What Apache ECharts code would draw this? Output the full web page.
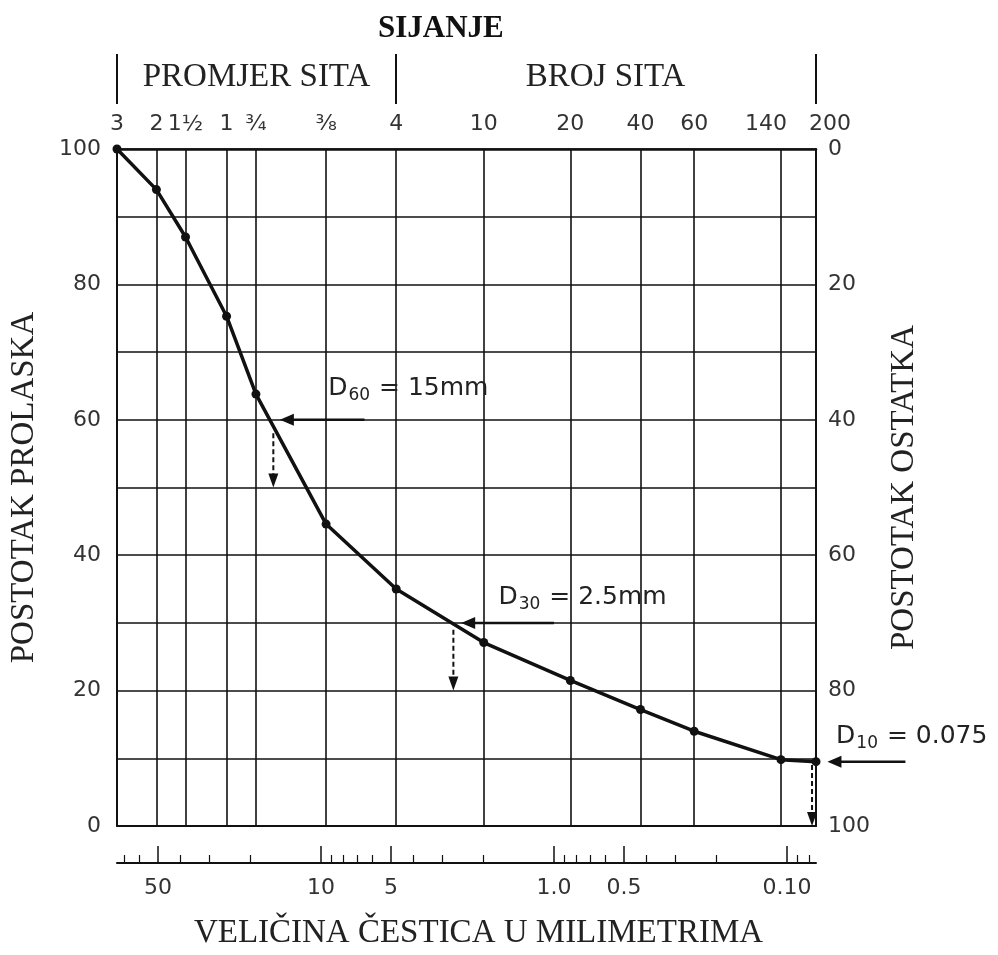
<!DOCTYPE html>
<html>
<head>
<meta charset="utf-8">
<title>Granulometrijska krivulja</title>
<script src="https://cdn.jsdelivr.net/npm/echarts@6.0.0/dist/echarts.min.js"></script>
<style>
  html, body { margin: 0; padding: 0; background: #fff; }
  #chart { width: 998px; height: 955px; }
</style>
</head>
<body>
<div id="chart"></div>
<script>
// krivulja prolaska - vrijednosti ocitane sa slike
const sizesMm = [75, 50.8, 38.1, 25.4, 19.0, 9.5, 4.75, 2.0, 0.85, 0.425, 0.25, 0.106, 0.075];
const passing = [100, 94, 87, 75.3, 63.8, 44.6, 35, 27.1, 21.5, 17.2, 14, 9.8, 9.5];

// gornja skala - sita
const sieveSizes = [75, 50.8, 38.1, 25.4, 19.0, 9.5, 4.75, 2.0, 0.85, 0.425, 0.25, 0.106, 0.075];
const sieveLabels = ['3', '2', '1½', '1', '¾', '⅜', '4', '10', '20', '40', '60', '140', '200'];
const groupEdges = [75, 4.75, 0.075];
const groupCenters = [18.9, 0.6];
const groupNames = ['PROMJER SITA', 'BROJ SITA'];

// donja skala u milimetrima
const mmMajor = [50, 10, 5, 1, 0.5, 0.1];
const mmMajorLabels = ['50', '10', '5', '1.0', '0.5', '0.10'];
const mmMinor = [70, 60, 40, 30, 20, 9, 8, 7, 6, 4, 3, 2, 0.9, 0.8, 0.7, 0.6, 0.4, 0.3, 0.2, 0.09, 0.08];

const percentTicks = [0, 20, 40, 60, 80, 100];

// oznake D60, D30, D10
const dSub = ['60', '30', '10'];
const dText = [' = 15mm', ' = 2.5mm', ' = 0.075'];
const dLevel = [60, 30, 9.5];
const arrowTail = [6.5, 1.0, 0.031];
const arrowTip = [15, 2.5, 0.067];
const dropAt = [16, 2.7, 0.078];
const dropFrom = [58, 29, 9];
const dropTo = [50, 20, 0];
const labelAt = [[9.3, 64.6], [1.73, 33.7], [0.0615, 13.2]];

const serif = 'Liberation Serif';
const sans = 'DejaVu Sans';
const ink = '#111';

// zadnje dvije oznake sita su na slici razmaknute od linije
const sieveNudge = { '140': 'l', '200': 'r' };

function pickIndex(values, v) {
    // log os vraca vrijednosti s malom greskom, trazimo najblizu
    let best = 0;
    values.forEach((s, i) => {
        if (Math.abs(Math.log(s / v)) < Math.abs(Math.log(values[best] / v))) best = i;
    });
    return best;
}

function sieveFormatter(v) {
    const txt = sieveLabels[pickIndex(sieveSizes, v)];
    const nudge = sieveNudge[txt];
    return nudge ? '{' + nudge + '|' + txt + '}' : txt;
}

const logAxis = { type: 'log', logBase: 10, min: 0.075, max: 75, inverse: true, gridIndex: 0 };
const numLabel = { fontFamily: sans, fontSize: 22, color: '#333' };

const chart = echarts.init(document.getElementById('chart'));

const options = {
    animation: false,
    title: {
        text: 'SIJANJE',
        left: 373,
        top: 8,
        textStyle: { fontFamily: serif, fontWeight: 'bold', fontSize: 31, color: ink }
    },
    grid: { left: 117, right: 182, top: 149, bottom: 122 },
    xAxis: [
        { // okvir dolje + vertikalne linije sita
            ...logAxis,
            position: 'bottom',
            axisLine: { lineStyle: { color: ink, width: 2 } },
            axisTick: { show: false, customValues: sieveSizes },
            axisLabel: { show: false },
            splitLine: { show: true, lineStyle: { color: ink, width: 1.6 } }
        },
        { // oznake sita gore
            ...logAxis,
            position: 'top',
            axisLine: { lineStyle: { color: ink, width: 2.5 } },
            axisTick: { show: false },
            axisLabel: {
                ...numLabel,
                customValues: sieveSizes,
                showMinLabel: true,
                showMaxLabel: true,
                formatter: sieveFormatter,
                margin: 14,
                rich: {
                    l: { ...numLabel, padding: [0, 30, 0, 0] },
                    r: { ...numLabel, padding: [0, 0, 0, 28] }
                }
            },
            splitLine: { show: false }
        },
        { // PROMJER SITA | BROJ SITA
            ...logAxis,
            position: 'top',
            offset: 45,
            axisLine: { show: false },
            axisTick: { customValues: groupEdges, length: 50, lineStyle: { color: ink, width: 2 } },
            axisLabel: {
                customValues: groupCenters,
                showMinLabel: true,
                showMaxLabel: true,
                formatter: v => groupNames[pickIndex(groupCenters, v)],
                fontFamily: serif, fontSize: 33, color: '#222', margin: 10
            },
            splitLine: { show: false }
        },
        { // mm skala, glavne crtice
            ...logAxis,
            position: 'bottom',
            offset: 37,
            axisLine: { lineStyle: { color: ink, width: 2 } },
            axisTick: { customValues: mmMajor, inside: true, length: 17, lineStyle: { color: ink, width: 1.5 } },
            axisLabel: {
                ...numLabel,
                customValues: mmMajor,
                showMinLabel: true,
                showMaxLabel: true,
                formatter: v => mmMajorLabels[pickIndex(mmMajor, v)],
                margin: 14
            },
            splitLine: { show: false },
            name: 'VELIČINA ČESTICA U MILIMETRIMA',
            nameLocation: 'middle',
            nameGap: 54,
            nameTextStyle: { fontFamily: serif, fontSize: 33, color: '#222', padding: [0, 0, 0, 24] }
        },
        { // mm skala, sitne crtice
            ...logAxis,
            position: 'bottom',
            offset: 37,
            axisLine: { show: false },
            axisTick: { customValues: mmMinor, inside: true, length: 8, lineStyle: { color: ink, width: 1.2 } },
            axisLabel: { show: false },
            splitLine: { show: false }
        }
    ],
    yAxis: [
        {
            type: 'value',
            min: 0, max: 100, interval: 10,
            axisLine: { show: true, lineStyle: { color: ink, width: 2 } },
            axisTick: { show: false },
            axisLabel: { ...numLabel, customValues: percentTicks, margin: 16 },
            splitLine: { show: true, lineStyle: { color: ink, width: 1.6 } },
            name: 'POSTOTAK PROLASKA',
            nameLocation: 'middle',
            nameRotate: 90,
            nameGap: 76,
            nameTextStyle: { fontFamily: serif, fontSize: 33, color: '#222' }
        },
        {
            type: 'value',
            position: 'right',
            inverse: true,
            min: 0, max: 100, interval: 10,
            axisLine: { show: true, lineStyle: { color: ink, width: 2 } },
            axisTick: { show: false },
            axisLabel: { ...numLabel, customValues: percentTicks, margin: 12 },
            splitLine: { show: false },
            name: 'POSTOTAK OSTATKA',
            nameLocation: 'middle',
            nameRotate: 90,
            nameGap: 72,
            nameTextStyle: { fontFamily: serif, fontSize: 33, color: '#222' }
        }
    ],
    series: [
        {
            type: 'line',
            xAxisIndex: 0,
            yAxisIndex: 0,
            data: sizesMm.map((s, i) => [s, passing[i]]),
            symbol: 'circle',
            symbolSize: 9,
            lineStyle: { color: ink, width: 3.5 },
            itemStyle: { color: ink },
            z: 5
        }
    ]
};

chart.setOption(options);

// strelice i oznake D60/D30/D10, pozicije preko osi grafa
const px = (x, y) => chart.convertToPixel({ seriesIndex: 0 }, [x, y]);
const graphics = [];
dSub.forEach((sub, i) => {
    const tail = px(arrowTail[i], dLevel[i]);
    const tip = px(arrowTip[i], dLevel[i]);
    graphics.push({
        type: 'line', z: 10,
        shape: { x1: tail[0], y1: tail[1], x2: tip[0] + 10, y2: tip[1] },
        style: { stroke: ink, lineWidth: 2.5 }
    });
    graphics.push({
        type: 'polygon', z: 10,
        shape: { points: [[tip[0], tip[1]], [tip[0] + 14, tip[1] - 6], [tip[0] + 14, tip[1] + 6]] },
        style: { fill: ink }
    });
    const a = px(dropAt[i], dropFrom[i]);
    const b = px(dropAt[i], dropTo[i]);
    graphics.push({
        type: 'line', z: 10,
        shape: { x1: a[0], y1: a[1], x2: b[0], y2: b[1] - 10 },
        style: { stroke: ink, lineWidth: 2, lineDash: [5, 3] }
    });
    graphics.push({
        type: 'polygon', z: 10,
        shape: { points: [[b[0], b[1]], [b[0] - 5, b[1] - 14], [b[0] + 5, b[1] - 14]] },
        style: { fill: ink }
    });
    const t = px(labelAt[i][0], labelAt[i][1]);
    graphics.push({
        type: 'text', z: 10,
        x: t[0], y: t[1],
        style: {
            text: '{d|D}{s|' + sub + '}{d|' + dText[i] + '}',
            verticalAlign: 'middle',
            fill: '#222',
            rich: {
                d: { fontFamily: sans, fontSize: 25, fill: '#222' },
                s: { fontFamily: sans, fontSize: 17, fill: '#222', verticalAlign: 'bottom', padding: [14, 1, 0, 1] }
            }
        }
    });
});
chart.setOption({ graphic: graphics });
</script>
</body>
</html>
